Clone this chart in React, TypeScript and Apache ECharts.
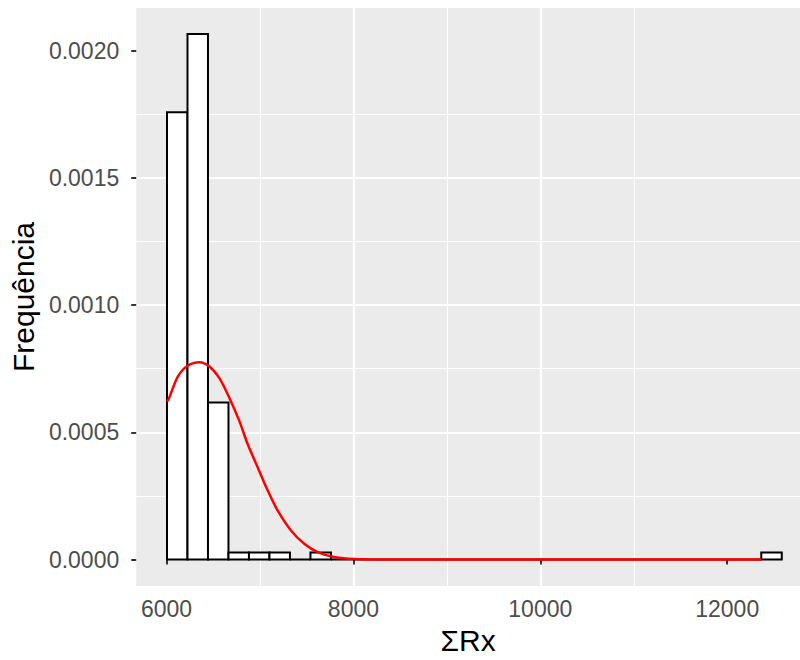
import React, { useEffect, useRef } from "react";
import * as echarts from "echarts";

// Histogram bins (density scale)
const binStart = 6005;
const binWidth = 219.3;
const binDensity = [
  0.001758, 0.002066, 0.000617, 0.0000273, 0.0000273, 0.0000273, 0, 0.0000273, 0, 0,
  0, 0, 0, 0, 0, 0, 0, 0, 0, 0,
  0, 0, 0, 0, 0, 0, 0, 0, 0, 0.0000273,
];

// Fitted density curve
const curveX = [
  6005, 6021, 6122, 6229, 6352, 6459, 6566, 6673, 6780, 6869, 6976, 7083, 7190, 7332, 7474,
  7617, 7794, 8008, 8500, 12365,
];
const curveY = [
  0.000622, 0.000629, 0.00072, 0.000763, 0.000776, 0.000759, 0.000713, 0.000635, 0.000544,
  0.000453, 0.000362, 0.000271, 0.000192, 0.000114, 0.0000618, 0.0000293, 0.0000098,
  0.000002, 0, 0,
];

const xTicks = [6000, 8000, 10000, 12000];
const yTicks = [0, 0.0005, 0.001, 0.0015, 0.002];

export default function App() {
  const ref = useRef<HTMLDivElement>(null);
  useEffect(() => {
    if (!ref.current) return;
    const chart = echarts.init(ref.current, null, { renderer: "svg" });
    const bars = binDensity.map((d, i) => [binStart + i * binWidth, binStart + (i + 1) * binWidth, d]);
    const curve = curveX.map((x, i) => [x, curveY[i]]);
    const font = "'Liberation Sans', Arial, sans-serif";
    chart.setOption({
      animation: false,
      textStyle: { fontFamily: font },
      grid: {
        left: 136,
        right: 0,
        top: 8,
        bottom: 71,
        show: true,
        backgroundColor: "#EBEBEB",
        borderWidth: 0,
      },
      xAxis: {
        type: "value",
        min: 5676,
        max: 12779,
        splitNumber: 4,
        name: "ΣRx",
        nameLocation: "middle",
        nameGap: 39,
        nameTextStyle: { fontSize: 30, color: "#000", fontFamily: font },
        axisLine: { show: false },
        axisTick: { show: true, length: 5, lineStyle: { color: "#333", width: 2 }, customValues: xTicks },
        axisLabel: {
          customValues: xTicks,
          color: "#4D4D4D",
          fontSize: 23,
          margin: 11,
          fontFamily: font,
          formatter: (v: number) => String(v),
        },
        splitLine: { show: true, showMinLine: false, showMaxLine: false, lineStyle: { color: "#fff", width: 2.2 } },
        minorTick: { show: false, splitNumber: 2 },
        minorSplitLine: { show: true, lineStyle: { color: "#fff", width: 1.1 } },
      },
      yAxis: {
        type: "value",
        min: -0.000104,
        max: 0.002168,
        splitNumber: 4,
        name: "Frequência",
        nameLocation: "middle",
        nameGap: 94,
        nameTextStyle: { fontSize: 30, color: "#000", fontFamily: font },
        axisLine: { show: false },
        axisTick: { show: true, length: 5, lineStyle: { color: "#333", width: 2 }, customValues: yTicks },
        axisLabel: {
          customValues: yTicks,
          color: "#4D4D4D",
          fontSize: 23,
          margin: 17,
          fontFamily: font,
          formatter: (v: number) => v.toFixed(4),
        },
        splitLine: { show: true, showMinLine: false, showMaxLine: false, lineStyle: { color: "#fff", width: 2.2 } },
        minorTick: { show: false, splitNumber: 2 },
        minorSplitLine: { show: true, lineStyle: { color: "#fff", width: 1.1 } },
      },
      series: [
        {
          type: "custom",
          data: bars,
          encode: { x: [0, 1], y: 2 },
          z: 2,
          renderItem: (params: any, api: any) => {
            const p0 = api.coord([api.value(0), api.value(2)]);
            const p1 = api.coord([api.value(1), 0]);
            return {
              type: "rect",
              shape: { x: p0[0], y: p0[1], width: p1[0] - p0[0], height: p1[1] - p0[1] },
              style: { fill: "#fff", stroke: "#000", lineWidth: 2 },
            };
          },
        },
        {
          type: "line",
          data: curve,
          smooth: 0.3,
          showSymbol: false,
          z: 3,
          lineStyle: { color: "#FF0000", width: 2.5 },
        },
      ],
    });
    return () => chart.dispose();
  }, []);
  return (
    <div
      ref={ref}
      style={{ position: "fixed", left: 0, top: 0, width: 800, height: 660, background: "#fff" }}
    />
  );
}
